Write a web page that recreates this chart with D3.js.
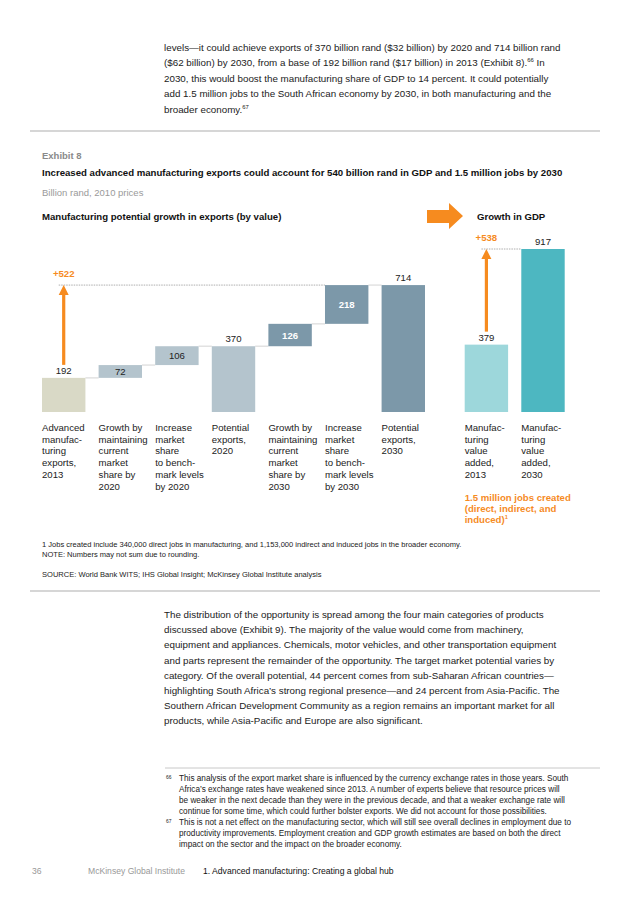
<!DOCTYPE html>
<html>
<head>
<meta charset="utf-8">
<script src="https://cdn.jsdelivr.net/npm/d3@7"></script>
<style>
body { margin: 0; background: #fff; }
svg { display: block; }
text { font-family: "Liberation Sans", Arial, Helvetica, sans-serif; }
</style>
</head>
<body>
<svg id="page" width="636" height="900"></svg>
<script>
// données du graphique
const exportCats = ["Advanced|manufac-|turing|exports,|2013", "Growth by|maintaining|current|market|share by|2020",
	"Increase|market|share|to bench-|mark levels|by 2020", "Potential|exports,|2020",
	"Growth by|maintaining|current|market|share by|2030", "Increase|market|share|to bench-|mark levels|by 2030",
	"Potential|exports,|2030"];
const exportValues = [192, 72, 106, 370, 126, 218, 714];
const exportKinds = ["total", "delta", "delta", "total", "delta", "delta", "total"];
const gdpCats = ["Manufac-|turing|value|added,|2013", "Manufac-|turing|value|added,|2030"];
const gdpValues = [379, 917];
const exportGrowth = "+522";
const gdpGrowth = "+538";
const exportColors = ["#d9d9c6", "#b4c4cd", "#b4c4cd", "#b4c4cd", "#7c98a9", "#7c98a9", "#7c98a9"];
const gdpColors = ["#9dd7db", "#4db7c1"];

const para1 = ["levels\u2014it could achieve exports of 370 billion rand ($32 billion) by 2020 and 714 billion rand",
	"($62 billion) by 2030, from a base of 192 billion rand ($17 billion) in 2013 (Exhibit 8).^66^ In",
	"2030, this would boost the manufacturing share of GDP to 14 percent. It could potentially",
	"add 1.5 million jobs to the South African economy by 2030, in both manufacturing and the",
	"broader economy.^67^"];
const para2 = ["The distribution of the opportunity is spread among the four main categories of products",
	"discussed above (Exhibit 9). The majority of the value would come from machinery,",
	"equipment and appliances. Chemicals, motor vehicles, and other transportation equipment",
	"and parts represent the remainder of the opportunity. The target market potential varies by",
	"category. Of the overall potential, 44 percent comes from sub-Saharan African countries\u2014",
	"highlighting South Africa\u2019s strong regional presence\u2014and 24 percent from Asia-Pacific. The",
	"Southern African Development Community as a region remains an important market for all",
	"products, while Asia-Pacific and Europe are also significant."];
const note66 = ["This analysis of the export market share is influenced by the currency exchange rates in those years. South",
	"Africa\u2019s exchange rates have weakened since 2013. A number of experts believe that resource prices will",
	"be weaker in the next decade than they were in the previous decade, and that a weaker exchange rate will",
	"continue for some time, which could further bolster exports. We did not account for those possibilities."];
const note67 = ["This is not a net effect on the manufacturing sector, which will still see overall declines in employment due to",
	"productivity improvements. Employment creation and GDP growth estimates are based on both the direct",
	"impact on the sector and the impact on the broader economy."];

const orange = "#f68b1f";
const svg = d3.select("#page");

// écrit une ligne, avec ^xx^ pour les exposants
function ligne(g, x, y, s, size, attrs = {}) {
	let t = g.append("text").attr("x", x).attr("y", y).style("font-size", size + "px");
	for (let [k, v] of Object.entries(attrs)) t.style(k, v);
	s.split("^").forEach((part, i) => {
		if (!part) return;
		let ts = t.append("tspan").text(part);
		if (i % 2 == 1) ts.attr("dy", -size * 0.4).style("font-size", (size * 0.6) + "px");
		else if (i > 0) ts.attr("dy", size * 0.4);
	});
	return t;
}
// taille de police pour qu'une ligne de référence fasse la largeur voulue
function taille(s, largeur, attrs = {}) {
	let t = ligne(svg, -1000, -1000, s.replace(/\^[^^]*\^/g, ""), 10, attrs);
	let w = t.node().getComputedTextLength();
	t.remove();
	return 10 * largeur / w;
}
function bloc(lines, x, y0, dy, size, attrs = {}) {
	let g = svg.append("g");
	lines.forEach((s, i) => ligne(g, x, y0 + i * dy, s, size, attrs));
	return g;
}

// texte courant
let fBody = taille(para1[0], 397);
bloc(para1, 164, 50.5, 15.5, fBody, {fill: "#222"});
bloc(para2, 164, 618, 15.2, fBody, {fill: "#222"});

// filets
let rule = (x1, x2, y, w = 1.5) => svg.append("line").attr("x1", x1).attr("x2", x2).attr("y1", y).attr("y2", y)
	.attr("stroke", "#c8c8c8").attr("stroke-width", w);
rule(30, 600, 131);
rule(30, 600, 591);
rule(165, 600, 768, 1);

// en-tête de l'exhibit
ligne(svg, 42, 159, "Exhibit 8", 9.5, {fill: "#8a8a8a", "font-weight": "bold"});
let title = "Increased advanced manufacturing exports could account for 540 billion rand in GDP and 1.5 million jobs by 2030";
ligne(svg, 42, 176, title, taille(title, 521, {"font-weight": "bold"}), {fill: "#111", "font-weight": "bold"});
ligne(svg, 42, 196, "Billion rand, 2010 prices", 9.5, {fill: "#9a9a9a"});
ligne(svg, 42, 220, "Manufacturing potential growth in exports (by value)", 9.6, {fill: "#111", "font-weight": "bold"});
ligne(svg, 477, 220, "Growth in GDP", 9.6, {fill: "#111", "font-weight": "bold"});

// grosse flèche orange
svg.append("path")
	.attr("d", "M427,210 L449,210 L449,203 L463,216 L449,229 L449,223 L427,223 Z")
	.attr("fill", orange);

// échelles
let y = d3.scaleLinear().domain([0, 917]).range([412, 249]);
let x = d3.scaleBand().domain(d3.range(exportValues.length)).range([42, 425]).paddingInner(0.233);
let x2 = d3.scaleBand().domain(d3.range(gdpValues.length)).range([464.7, 564.7]).paddingInner(0.233);
let bw = x.bandwidth();

// cascade
let cumul = 0;
let barres = exportValues.map((v, i) => {
	let b;
	if (exportKinds[i] == "total") { b = {lo: 0, hi: v}; cumul = v; }
	else { b = {lo: cumul, hi: cumul + v}; cumul += v; }
	return {i, v, kind: exportKinds[i], ...b};
});

let chart = svg.append("g");
// connecteurs gris
chart.selectAll("line.conn")
	.data(barres.slice(0, -1))
	.join("line")
	.attr("x1", d => x(d.i) + bw)
	.attr("x2", d => x(d.i + 1))
	.attr("y1", d => y(d.hi)).attr("y2", d => y(d.hi))
	.attr("stroke", "#e2e2e2").attr("stroke-width", 1.5);

chart.selectAll("rect.exp")
	.data(barres)
	.join("rect")
	.attr("x", d => x(d.i))
	.attr("y", d => y(d.hi))
	.attr("width", bw)
	.attr("height", d => y(d.lo) - y(d.hi))
	.attr("fill", d => exportColors[d.i]);

chart.selectAll("text.val")
	.data(barres)
	.join("text")
	.attr("x", d => x(d.i) + bw / 2)
	.attr("y", d => d.kind == "total" ? y(d.hi) - 4 : (y(d.lo) + y(d.hi)) / 2 + 3.5)
	.attr("text-anchor", "middle")
	.style("font-size", "9.6px")
	.style("font-weight", d => d.kind == "delta" && d.i > 3 ? "bold" : null)
	.style("fill", d => d.kind == "delta" && d.i > 3 ? "#fff" : "#222")
	.text(d => d.v);

// barres PIB
chart.selectAll("rect.gdp")
	.data(gdpValues)
	.join("rect")
	.attr("x", (d, i) => x2(i))
	.attr("y", d => y(d))
	.attr("width", x2.bandwidth())
	.attr("height", d => y(0) - y(d))
	.attr("fill", (d, i) => gdpColors[i]);
chart.selectAll("text.gdpval")
	.data(gdpValues)
	.join("text")
	.attr("x", (d, i) => x2(i) + x2.bandwidth() / 2)
	.attr("y", d => y(d) - 4)
	.attr("text-anchor", "middle")
	.style("font-size", "9.6px")
	.style("fill", "#222")
	.text(d => d);

// flèches de croissance
function croissance(cx, yBas, yHaut, xFin, label) {
	chart.append("line")
		.attr("x1", cx - 5).attr("x2", xFin)
		.attr("y1", yHaut).attr("y2", yHaut)
		.attr("stroke", "#999").attr("stroke-width", 0.8).attr("stroke-dasharray", "1.5,1");
	chart.append("rect")
		.attr("x", cx - 1.6).attr("y", yHaut + 9).attr("width", 3.2).attr("height", yBas - yHaut - 9)
		.attr("fill", orange);
	chart.append("path")
		.attr("d", `M${cx - 5},${yHaut + 10} L${cx},${yHaut} L${cx + 5},${yHaut + 10} Z`)
		.attr("fill", orange);
	chart.append("text")
		.attr("x", cx).attr("y", yHaut - 8)
		.attr("text-anchor", "middle")
		.style("font-size", "9.6px").style("font-weight", "bold").style("fill", orange)
		.text(label);
}
croissance(x(0) + bw / 2, y(exportValues[0]) - 13, y(exportValues[6]), x(5), exportGrowth);
croissance(x2(0) + x2.bandwidth() / 2, y(gdpValues[0]) - 13, y(gdpValues[1]), x2(1), gdpGrowth);

// étiquettes des catégories
let cats = exportCats.map((c, i) => ({x: x(i), c})).concat(gdpCats.map((c, i) => ({x: x2(i), c})));
cats.forEach(d => bloc(d.c.split("|"), d.x, 431, 11.7, 9.6, {fill: "#222"}));

// emplois
bloc(["1.5 million jobs created", "(direct, indirect, and", "induced)^1^"], x2(0), 500.8, 11.2, 9.6,
	{fill: orange, "font-weight": "bold"});

// notes de l'exhibit
let fNote = taille("1  Jobs created include 340,000 direct jobs in manufacturing, and 1,153,000 indirect and induced jobs in the broader economy.", 420);
ligne(svg, 42, 547, "1  Jobs created include 340,000 direct jobs in manufacturing, and 1,153,000 indirect and induced jobs in the broader economy.", fNote, {fill: "#222"});
ligne(svg, 42, 557, "NOTE: Numbers may not sum due to rounding.", fNote, {fill: "#222"});
ligne(svg, 42, 577, "SOURCE:  World Bank WITS; IHS Global Insight; McKinsey Global Institute analysis", fNote, {fill: "#222"});

// notes de bas de page
let fFoot = taille(note66[0], 390);
bloc(note66, 179, 780.5, 11, fFoot, {fill: "#222"});
bloc(note67, 179, 824.5, 11, fFoot, {fill: "#222"});
ligne(svg, 166, 778.5, "66", fFoot * 0.6, {fill: "#222"});
ligne(svg, 166, 822.5, "67", fFoot * 0.6, {fill: "#222"});

// pied de page
ligne(svg, 32, 874, "36", 8.6, {fill: "#999"});
ligne(svg, 88, 874, "McKinsey Global Institute", 8.6, {fill: "#999"});
ligne(svg, 203, 874, "1. Advanced manufacturing: Creating a global hub", 8.6, {fill: "#111"});
</script>
</body>
</html>
